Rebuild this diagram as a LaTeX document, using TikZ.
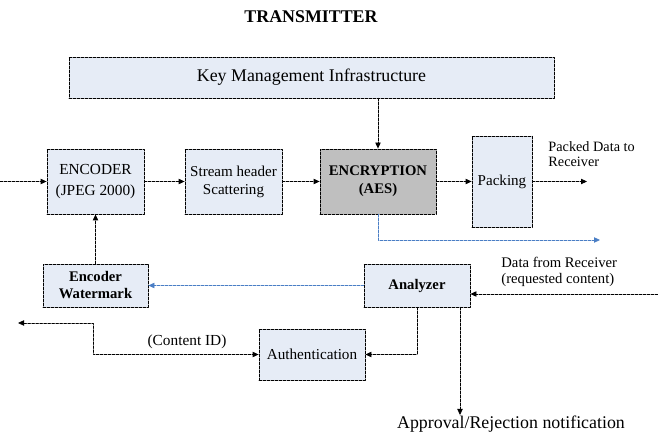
\documentclass[tikz,border=0pt]{standalone}
\usepackage{fontspec}
\setmainfont{Liberation Serif}
\usetikzlibrary{arrows.meta}
\definecolor{boxfill}{RGB}{230,236,246}
\definecolor{encgray}{RGB}{191,191,191}
\definecolor{linkblue}{RGB}{74,126,197}
\tikzset{
	dsh/.style={dash pattern=on 2pt off 1pt},
	blk/.style={draw,dsh,fill=boxfill,align=center,inner sep=1pt},
	lnk/.style={dsh,->},
}
\begin{document}
\begin{tikzpicture}[>={Triangle[length=4.5pt,width=4pt]},line cap=round,line join=round,font=\fontsize{11}{13}\selectfont,line width=.6pt,x=.75pt,y=-.75pt]
	\useasboundingbox (0,0) rectangle (658,434);
	\node[font=\bfseries\fontsize{13.4}{15}\selectfont] (title) at (311,17) {TRANSMITTER};
	\node[blk,minimum width=363.75pt,minimum height=30.75pt,font=\fontsize{13.4}{15}\selectfont] (kmi) at (311.5,77.5) {Key Management Infrastructure};
	% main chain
	\node[blk,minimum width=72.75pt,minimum height=48.75pt,font=\fontsize{11.5}{16}\selectfont] (enc) at (95.5,181.5) {ENCODER\\(JPEG 2000)};
	\node[blk,minimum width=72.75pt,minimum height=48.75pt,font=\fontsize{11.3}{13.5}\selectfont] (shs) at (233.5,181.5) {Stream header\\Scattering};
	\node[blk,fill=encgray,minimum width=87pt,minimum height=48.75pt,font=\bfseries\fontsize{11}{13.75}\selectfont] (aes) at (378,181.5) {ENCRYPTION\\(AES)};
	\node[blk,minimum width=45pt,minimum height=68.25pt,font=\fontsize{11.3}{14}\selectfont] (pack) at (502,181.5) {Packing};
	\node[blk,minimum width=78.75pt,minimum height=32.25pt,font=\bfseries\fontsize{11}{12.75}\selectfont] (wm) at (95.5,285.5) {Encoder\\Watermark};
	\node[blk,minimum width=79.5pt,minimum height=32.25pt,font=\bfseries\fontsize{11}{12.75}\selectfont] (ana) at (417,285.5) {Analyzer};
	\node[blk,minimum width=79.5pt,minimum height=38.25pt,font=\fontsize{11.4}{14}\selectfont] (auth) at (312,354.5) {Authentication};
	% free ends
	\coordinate (in) at (0,181.5);
	\coordinate (out) at (587,181.5);
	\coordinate (blueout) at (600,240);
	\coordinate (datain) at (658,294);
	\coordinate (notif) at (460,415);
	\coordinate (cidout) at (18,323);
	\coordinate (cidbend) at (93,323);
	% connectors
	\draw[lnk] (kmi.south -| aes.north) -- (aes.north);
	\draw[lnk] (in) -- (enc.west);
	\draw[lnk] (enc) -- (shs);
	\draw[lnk] (shs) -- (aes);
	\draw[lnk] (aes) -- (pack);
	\draw[lnk] (pack.east) -- (out);
	\draw[lnk,linkblue] (aes.south) |- (blueout);
	\draw[lnk] (wm.north) -- (enc.south);
	\draw[lnk,linkblue] (ana.west) -- (wm.east);
	\draw[lnk] (datain) -- (datain -| ana.east);
	\draw[lnk] (ana.south) |- (auth.east);
	\draw[lnk] (ana.south -| notif) -- (notif);
	\draw[dsh,<->] (cidout) -- (cidbend) |- (auth.west);
	% labels
	\node[anchor=north west,align=left,inner sep=0pt,font=\fontsize{10.7}{11.5}\selectfont] (pdr) at (548,141) {Packed Data to\\Receiver};
	\node[anchor=west,align=left,inner sep=0pt,font=\fontsize{11}{12.5}\selectfont] (dfr) at (501,272) {Data from Receiver\\(requested content)};
	\node[font=\fontsize{11.5}{14}\selectfont] (cid) at (187,342) {(Content ID)};
	\node[font=\fontsize{13.4}{15}\selectfont] (arn) at (511,424) {Approval/Rejection notification};
\end{tikzpicture}
\end{document}
